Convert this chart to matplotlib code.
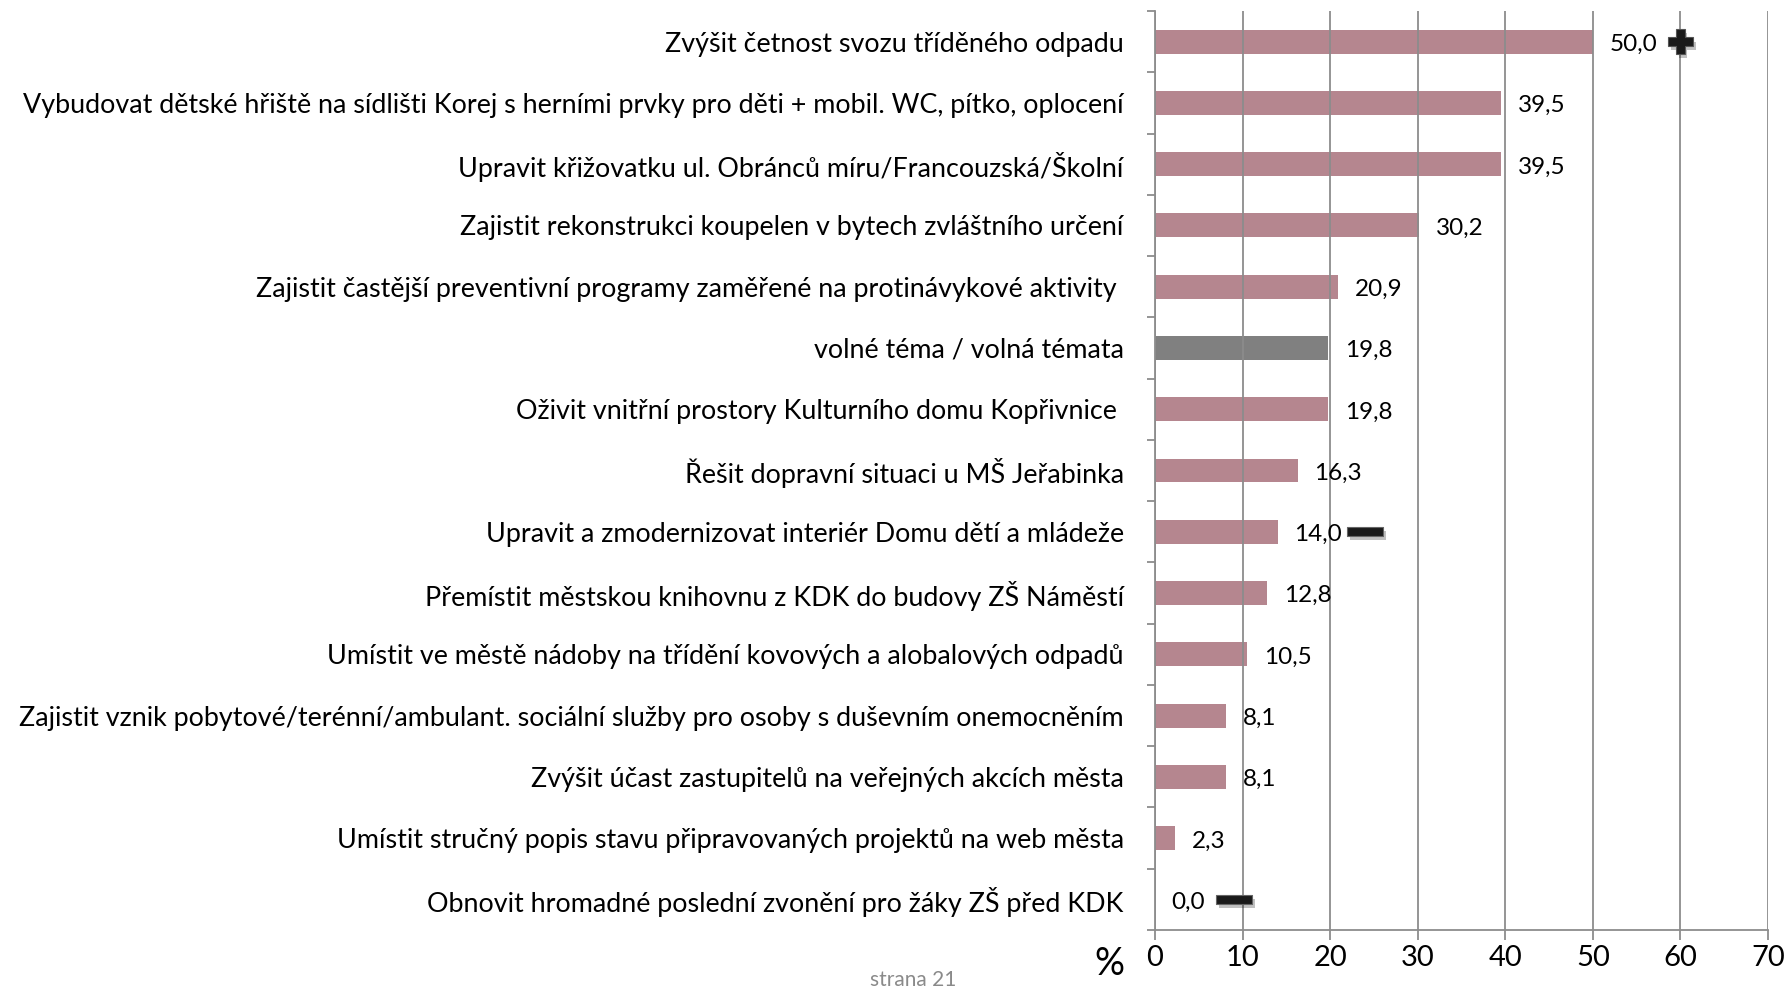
import numpy as np
import matplotlib
matplotlib.use("Agg")
import matplotlib.pyplot as plt
from matplotlib.path import Path
import matplotlib.patheffects as pe

plt.rcParams['font.family'] = ['Lato', 'DejaVu Sans']

# data (top to bottom)
categories = [
    "Zvýšit četnost svozu tříděného odpadu",
    "Vybudovat dětské hřiště na sídlišti Korej s herními prvky pro děti + mobil. WC, pítko, oplocení",
    "Upravit křižovatku ul. Obránců míru/Francouzská/Školní",
    "Zajistit rekonstrukci koupelen v bytech zvláštního určení",
    "Zajistit častější preventivní programy zaměřené na protinávykové aktivity ",
    "volné téma / volná témata",
    "Oživit vnitřní prostory Kulturního domu Kopřivnice ",
    "Řešit dopravní situaci u MŠ Jeřabinka",
    "Upravit a zmodernizovat interiér Domu dětí a mládeže",
    "Přemístit městskou knihovnu z KDK do budovy ZŠ Náměstí",
    "Umístit ve městě nádoby na třídění kovových a alobalových odpadů",
    "Zajistit vznik pobytové/terénní/ambulant. sociální služby pro osoby s duševním onemocněním",
    "Zvýšit účast zastupitelů na veřejných akcích města",
    "Umístit stručný popis stavu připravovaných projektů na web města",
    "Obnovit hromadné poslední zvonění pro žáky ZŠ před KDK",
]
values = [50.0, 39.5, 39.5, 30.2, 20.9, 19.8, 19.8, 16.3, 14.0, 12.8, 10.5, 8.1, 8.1, 2.3, 0.0]
highlight = "volné téma / volná témata"

# plus / minus icons: (category index, x position, kind)
icons = [(0, 60, "plus"), (8, 24, "minus"), (14, 9, "minus")]

xticks = [0, 10, 20, 30, 40, 50, 60, 70]

pink = "#b5868f"
grey = "#808080"
gridc = "#8c8c8c"

fig = plt.figure(figsize=(17.89, 9.88), dpi=100)
ax = fig.add_axes([0.6456, 0.0587, 0.9883 - 0.6456, 0.9889 - 0.0587])

y = np.arange(len(categories))
colors = [grey if c == highlight else pink for c in categories]
ax.barh(y, values, height=0.39, color=colors, zorder=1)

for yi, v in zip(y, values):
    ax.annotate(f"{v:.1f}".replace(".", ","), (v, yi), xytext=(12, -2),
                textcoords="offset points", va="center", ha="left", fontsize=17.5)

# icons
minus_path = Path([(-2, -0.5), (2, -0.5), (2, 0.5), (-2, 0.5), (-2, -0.5)],
                  [Path.MOVETO, Path.LINETO, Path.LINETO, Path.LINETO, Path.CLOSEPOLY])
shadow = [pe.SimplePatchShadow(offset=(2, -3), alpha=0.25), pe.Normal()]
for idx, xpos, kind in icons:
    if kind == "plus":
        ax.plot(xpos, idx, marker="P", markersize=18, color="#1a1a1a",
                markeredgecolor="#555555", markeredgewidth=0.8, zorder=5,
                clip_on=False, path_effects=shadow)
    else:
        ax.plot(xpos, idx, marker=minus_path, markersize=26, color="#1a1a1a",
                markeredgecolor="#666666", markeredgewidth=0.8, zorder=5,
                clip_on=False, path_effects=shadow)

ax.set_xlim(0, 70)
ax.set_ylim(len(categories) - 0.5, -0.5)
ax.set_xticks(xticks)
ax.set_xticklabels([str(t) for t in xticks], fontsize=21)
ax.set_yticks(y)
ax.set_yticklabels(categories, fontsize=19.4)
ax.set_yticks(np.arange(len(categories) + 1) - 0.5, minor=True)

ax.tick_params(axis="y", which="major", length=0, pad=22.5)
ax.tick_params(axis="y", which="minor", length=6, width=1.3, color=gridc, direction="out")
ax.tick_params(axis="x", which="major", length=7, width=1.3, color=gridc, direction="out", pad=4)

ax.xaxis.grid(True, color=gridc, linewidth=1.3)
ax.set_axisbelow(False)

for s in ["top", "right"]:
    ax.spines[s].set_visible(False)
for s in ["left", "bottom"]:
    ax.spines[s].set_color(gridc)
    ax.spines[s].set_linewidth(1.3)

fig.text(1109 / 1789, 1 - 964 / 988, "%", fontsize=27, ha="center", va="center")
fig.text(913 / 1789, 1 - 980 / 988, "strana 21", fontsize=15, color="#8a8a8a",
         ha="center", va="center")

fig.savefig("out.png", dpi=100)
